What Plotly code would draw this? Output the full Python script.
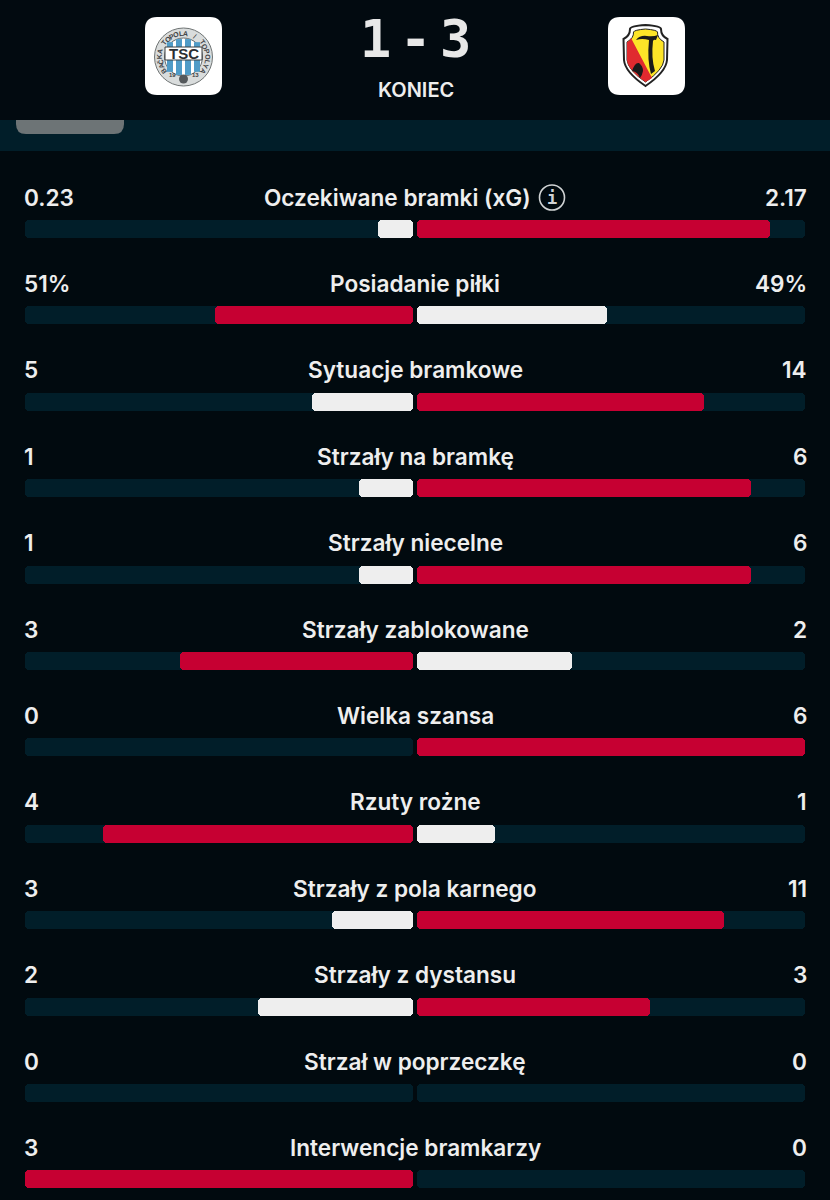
import math
import plotly.graph_objects as go

stats = ["Oczekiwane bramki (xG)", "Posiadanie piłki", "Sytuacje bramkowe", "Strzały na bramkę",
         "Strzały niecelne", "Strzały zablokowane", "Wielka szansa", "Rzuty rożne",
         "Strzały z pola karnego", "Strzały z dystansu", "Strzał w poprzeczkę", "Interwencje bramkarzy"]
home = [0.23, 51, 5, 1, 1, 3, 0, 4, 3, 2, 0, 3]
away = [2.17, 49, 14, 6, 6, 2, 6, 1, 11, 3, 0, 0]
home_labels = ["0.23", "51%", "5", "1", "1", "3", "0", "4", "3", "2", "0", "3"]
away_labels = ["2.17", "49%", "14", "6", "6", "2", "6", "1", "11", "3", "0", "0"]
# bar lengths, share of each half track
home_share = [0.09, 0.51, 0.26, 0.14, 0.14, 0.60, 0, 0.80, 0.21, 0.40, 0, 1]
away_share = [0.91, 0.49, 0.74, 0.86, 0.86, 0.40, 1, 0.20, 0.79, 0.60, 0, 0]

BG = "#010a0f"
TRACK = "#011e29"
RED = "#c60032"
WHITE = "#eeeeee"
FONT = "Inter"

home_col = [RED if h > a else WHITE for h, a in zip(home, away)]
away_col = [RED if a > h else WHITE for h, a in zip(home, away)]

fig = go.Figure()


def add_round_bar(axis, share, col):
    # drawn back from the tip: with a non zero base plotly rounds both ends of the bar
    fig.add_bar(x=[-s for s in share], base=share, y=stats, orientation="h", xaxis=axis, yaxis="y",
                marker=dict(color=col, line_width=0), width=0.208, hoverinfo="skip")


for axis, share, col in [("x", home_share, home_col), ("x2", away_share, away_col)]:
    add_round_bar(axis, [1] * len(stats), TRACK)
    add_round_bar(axis, share, col)
# invisible trace so the pixel axes used for the header exist
fig.add_scatter(x=[0], y=[0], xaxis="x3", yaxis="y3", mode="markers", marker_opacity=0, hoverinfo="skip")

shapes = []
annotations = []


def rrect(x0, y0, x1, y1, r, fill, layer="above"):
    path = (f"M{x0+r},{y0} L{x1-r},{y0} Q{x1},{y0} {x1},{y0+r} L{x1},{y1-r} Q{x1},{y1} {x1-r},{y1} "
            f"L{x0+r},{y1} Q{x0},{y1} {x0},{y1-r} L{x0},{y0+r} Q{x0},{y0} {x0+r},{y0} Z")
    shapes.append(dict(type="path", xref="x3", yref="y3", path=path, fillcolor=fill, line_width=0, layer=layer))


def circle(cx, cy, r, fill, line=None, lw=0):
    shapes.append(dict(type="circle", xref="x3", yref="y3", x0=cx - r, x1=cx + r, y0=cy - r, y1=cy + r,
                       fillcolor=fill, line=dict(color=line or fill, width=lw), layer="above"))


def poly(path, fill, lw=0, line=None):
    shapes.append(dict(type="path", xref="x3", yref="y3", path=path, fillcolor=fill,
                       line=dict(color=line or fill, width=lw), layer="above"))


def text(x, y, s, size, color=WHITE, family=FONT, weight=600, angle=0, anchor="center"):
    annotations.append(dict(xref="x3", yref="y3", x=x, y=y, text=s, showarrow=False, xanchor=anchor,
                            yanchor="middle", textangle=angle,
                            font=dict(family=family, size=size, color=color, weight=weight)))


# band under the header and its tab
shapes.append(dict(type="rect", xref="x3", yref="y3", x0=0, x1=830, y0=119, y1=151,
                   fillcolor=TRACK, line_width=0, layer="below"))
rrect(16, 108, 124, 134, 10, "#6d7476", layer="below")
shapes.append(dict(type="rect", xref="x3", yref="y3", x0=0, x1=830, y0=0, y1=120,
                   fillcolor="#020a10", line_width=0, layer="below"))

# home crest
rrect(145, 17, 222, 95, 12, "#ffffff")
cx, cy = 183.5, 57
circle(cx, cy, 29, "#d9dcdc", "#6f7474", 1)
circle(cx, cy, 19, "#ffffff", "#666b6e", 1)
for dx in (-13.5, -4.5, 4.5, 13.5):
    half = 3
    top = math.sqrt(max(19**2 - max(abs(dx) - half, 0) ** 2, 0)) - 1
    poly(f"M{cx+dx-half},{cy-top} L{cx+dx+half},{cy-top} L{cx+dx+half},{cy+top} L{cx+dx-half},{cy+top} Z", "#4f9bc7")
rrect(165, 47, 202, 60, 2, "#ffffff")
poly("M165,47 L202,47 L202,60 L165,60 Z", "rgba(0,0,0,0)", 1, "#3c4043")
text(cx, 53.5, "TSC", 15, "#2b2e31", "Liberation Sans", 700)
letters = "BAČKA TOPOLA / TOPOLYA"
for i, ch in enumerate(letters):
    a = -125 + i * 250 / (len(letters) - 1)
    text(cx + 24 * math.sin(math.radians(a)), cy - 24 * math.cos(math.radians(a)), ch, 7, "#3d4145",
         "Liberation Sans", 700, angle=a)
circle(cx, 79, 4.5, "#55595c")
text(172, 75, "19", 6, "#3d4145", "Liberation Sans", 700)
text(195, 75, "13", 6, "#3d4145", "Liberation Sans", 700)

# away crest
rrect(608, 17, 685, 95, 12, "#ffffff")
shield = ("M645.5,25 Q630,26 630,29 Q630,36 623.5,39 L624,60 Q625,72 645.5,86 "
          "Q666,72 667,60 L667.5,39 Q661,36 661,29 Q661,26 645.5,25 Z")
poly(shield, "#ffffff", 2, "#222222")
poly("M645.5,29 Q634,30 633.5,32 Q634,38 627,42 L627,60 Q628,70 645.5,82 Q663,70 664,60 L664,42 "
     "Q657,38 657.5,32 Q657,30 645.5,29 Z", "#fde428", 1, "#222222")
poly("M627,42 Q630,41 631,38 L652,78 Q649,80 645.5,82 Q628,70 627,60 Z", "#e02a2f")
poly("M636,40 Q640,35 647,36 Q653,37 658,35 L656,40 Q654,39 653,41 Q651,58 655,71 L651,74 Q647,60 649,40 "
     "Q642,38 636,40 Z", "#1a1a1a")
poly("M632,71 Q635,62 639,63 Q643,66 643,71 Q642,76 640,78 Q638,72 632,71 Z", "#1a1a1a")

# score
for sx, part in zip((375, 415, 455), ("1", "-", "3")):
    text(sx, 38.5, part, 52, "#e8e8e8", "DejaVu Sans Mono", 700)
text(415.5, 90, "KONIEC", 20, WHITE, FONT, 600)

# stat rows, the xG label sits left of centre to make room for the info icon
for stat, hl, al in zip(stats, home_labels, away_labels):
    label_x = 397.5 if stat.endswith("(xG)") else 415.5
    annotations.append(dict(xref="paper", yref="y", x=label_x / 830, y=stat, yshift=32, text=stat, showarrow=False,
                            xanchor="center", font=dict(family=FONT, size=22.6, color=WHITE, weight=600)))
    annotations.append(dict(xref="paper", yref="y", x=21.5 / 830, y=stat, yshift=32, text=hl, showarrow=False,
                            xanchor="left", font=dict(family=FONT, size=22.6, color=WHITE, weight=600)))
    annotations.append(dict(xref="paper", yref="y", x=809 / 830, y=stat, yshift=32, text=al, showarrow=False,
                            xanchor="right", font=dict(family=FONT, size=22.6, color=WHITE, weight=600)))

# info icon next to xG
circle(552, 197.5, 12.5, "rgba(0,0,0,0)", "#d0d3d4", 1.6)
text(552, 197.5, "i", 17, "#d0d3d4", "DejaVu Sans Mono", 700)

fig.update_layout(
    width=830, height=1200, margin=dict(l=0, r=0, t=0, b=0),
    paper_bgcolor=BG, plot_bgcolor="rgba(0,0,0,0)",
    barmode="overlay", barcornerradius=4, showlegend=False, bargap=0,
    xaxis=dict(domain=[25 / 830, 413 / 830], range=[1, 0], visible=False, fixedrange=True),
    xaxis2=dict(domain=[417 / 830, 805 / 830], range=[0, 1], visible=False, fixedrange=True),
    xaxis3=dict(domain=[0, 1], range=[0, 830], visible=False, anchor="y3", fixedrange=True),
    yaxis=dict(domain=[0, 1], type="category", categoryorder="array", categoryarray=stats,
               range=[(1200 - 229) / 86.4, -229 / 86.4], visible=False, fixedrange=True),
    yaxis3=dict(domain=[0, 1], range=[1200, 0], visible=False, anchor="x3", overlaying="y", fixedrange=True),
    shapes=shapes, annotations=annotations,
)

fig.write_html("out.html", config={"displayModeBar": False}, post_script="document.body.style.margin='0';")
